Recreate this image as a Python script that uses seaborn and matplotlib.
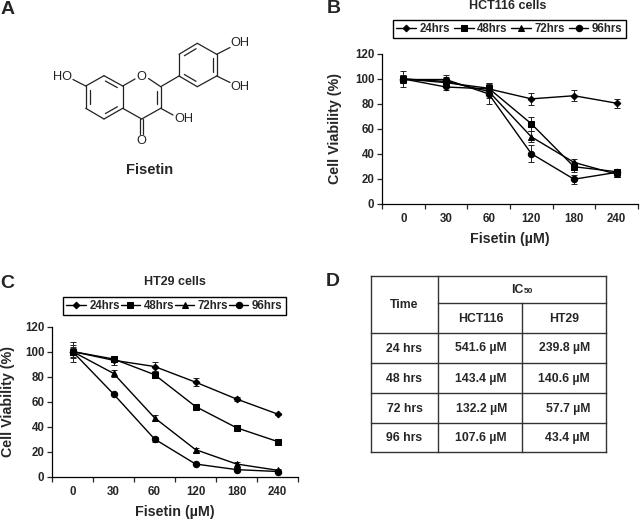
import numpy as np
import pandas as pd
import matplotlib
matplotlib.use("Agg")
import matplotlib.pyplot as plt
import seaborn as sns

doses = ['0', '30', '60', '120', '180', '240']
times = ['24hrs', '48hrs', '72hrs', '96hrs']

hct_24 = [100, 93.5, 92, 84, 86.5, 80.5]
hct_48 = [100, 97, 92.5, 64, 29.5, 25.5]
hct_72 = [100, 98, 90, 53.5, 33, 23.5]
hct_96 = [99.5, 99.5, 88, 40, 19.5, 25]
hct_24_err = [6.5, 2, 4.5, 5, 4.5, 3.5]
hct_48_err = [3, 3, 4, 5.5, 4, 2.5]
hct_72_err = [3, 3.5, 5, 4.5, 3, 2]
hct_96_err = [3, 3.5, 8, 7, 3.5, 2.5]

ht_24 = [100, 93, 88, 75.5, 62, 50]
ht_48 = [100, 94, 81.5, 56, 39, 28]
ht_72 = [100, 82.5, 47, 21.5, 10, 5]
ht_96 = [100, 66, 30, 10, 5.5, 4]
ht_24_err = [8, 3.5, 4, 3, 1.5, 1]
ht_48_err = [4, 2, 3, 1.5, 1.5, 1]
ht_72_err = [5, 3, 2.5, 1.5, 2, 1]
ht_96_err = [3, 1, 2, 1, 1, 1]

table_times = ['24 hrs', '48 hrs', '72 hrs', '96 hrs']
table_hct = ['541.6 µM', '143.4 µM', '132.2 µM', '107.6 µM']
table_ht = ['239.8 µM', '140.6 µM', '57.7 µM', '43.4 µM']

W, H = 640, 521
FONT = 'Liberation Sans'

sns.set_theme(style='ticks')
plt.rcParams['font.family'] = [FONT, 'DejaVu Sans']
plt.rcParams['font.weight'] = 'bold'

fig = plt.figure(figsize=(W / 100, H / 100), dpi=100)

# overlay in pixel coordinates for the diagram, the table and panel letters
bg = fig.add_axes([0, 0, 1, 1], zorder=0)
bg.set_xlim(0, W)
bg.set_ylim(H, 0)
bg.axis('off')


def axes_px(left, right, top, bottom):
    return fig.add_axes([left / W, 1 - bottom / H, (right - left) / W, (bottom - top) / H], zorder=2)


def viability(ax, series, errs, title, title_xy, legend_box, ylabel_pad):
    x = np.arange(len(doses))
    df = pd.DataFrame({'pos': np.tile(x, len(times)),
                       'val': np.concatenate(series),
                       'time': np.repeat(times, len(doses))})
    sns.lineplot(data=df, x='pos', y='val', hue='time', style='time', ax=ax,
                 palette=['black'] * 4, dashes=False,
                 markers={'24hrs': 'D', '48hrs': 's', '72hrs': '^', '96hrs': 'o'},
                 markersize=4.6, markeredgecolor='black', linewidth=1.0,
                 errorbar=None, sort=False, zorder=3)
    # the small diamond looks bigger otherwise
    ax.get_lines()[0].set_markersize(3.4)
    for v, e in zip(series, errs):
        ax.errorbar(x, v, yerr=e, fmt='none', ecolor='#222222', elinewidth=0.7,
                    capsize=2, capthick=0.7, zorder=2)
    ax.set_xlim(-0.5, 5.5)
    ax.set_ylim(0, 120)
    ax.set_yticks(range(0, 121, 20))
    ax.set_xticks(np.arange(-0.5, 6, 1))
    ax.set_xticklabels([])
    ax.set_xticks(x, minor=True)
    ax.set_xticklabels(doses, minor=True)
    ax.tick_params(axis='x', which='major', length=3.5, width=0.9, direction='out')
    ax.tick_params(axis='x', which='minor', length=0, pad=7, labelsize=8.3)
    ax.tick_params(axis='y', length=3.5, width=0.9, pad=2, labelsize=8.3)
    ax.set_xlabel('Fisetin (µM)', fontsize=10.3, fontweight='bold', labelpad=5)
    ax.set_ylabel('Cell Viability (%)', fontsize=10.3, fontweight='bold', labelpad=ylabel_pad)
    for s in ['top', 'right']:
        ax.spines[s].set_visible(False)
    for s in ['left', 'bottom']:
        ax.spines[s].set_linewidth(0.9)
        ax.spines[s].set_color('black')
    handles, labels = ax.get_legend_handles_labels()
    x0, y0, x1, y1 = legend_box
    leg = ax.legend(handles, labels, ncols=4, mode='expand', loc='center',
                    bbox_to_anchor=(x0 / W, 1 - y1 / H, (x1 - x0) / W, (y1 - y0) / H),
                    bbox_transform=fig.transFigure, borderaxespad=0, fancybox=False,
                    framealpha=1, edgecolor='black', fontsize=8.3, handlelength=1.7,
                    handletextpad=0.3, columnspacing=0.4, borderpad=0.3)
    leg.get_frame().set_linewidth(1.0)
    leg.legend_handles[0].set_markersize(3.4)
    for h in leg.legend_handles[1:]:
        h.set_markersize(4.6)
    bg.text(title_xy[0], title_xy[1], title, ha='center', va='center', fontsize=9, fontweight='bold')


ax_b = axes_px(382, 638, 54, 203.5)
viability(ax_b, [hct_24, hct_48, hct_72, hct_96],
          [hct_24_err, hct_48_err, hct_72_err, hct_96_err],
          'HCT116 cells', (508, 6), (393, 20, 626, 38), 9.4)

ax_c = axes_px(52, 298, 326.5, 476.5)
viability(ax_c, [ht_24, ht_48, ht_72, ht_96],
          [ht_24_err, ht_48_err, ht_72_err, ht_96_err],
          'HT29 cells', (175, 282), (63, 297, 286, 315), 7.2)

# panel letters
for letter, px, py in [('A', 8, 9), ('B', 334, 8.5), ('C', 7, 284), ('D', 333, 281)]:
    bg.text(px, py, letter, ha='center', va='center', fontsize=14, fontweight='bold')

# panel A, fisetin structure (atom positions in pixels)
atoms = {'c7': (85.7, 86), 'c8': (104, 75.7), 'c8a': (122.7, 86), 'c4a': (122.7, 108.3),
         'c5': (104, 119), 'c6': (85.7, 108.3), 'c2': (160.7, 86.7), 'c3': (160.7, 108.3),
         'c4': (141.7, 119), 'b1': (179, 76), 'b2': (179, 54.3), 'b3': (197.3, 43.3),
         'b4': (216.7, 54.3), 'b5': (216.7, 76), 'b6': (197.3, 86.7)}
single = [('c7', 'c8'), ('c8a', 'c4a'), ('c5', 'c6'), ('c3', 'c4'), ('c4', 'c4a'),
          ('c2', 'b1'), ('b1', 'b2'), ('b3', 'b4'), ('b5', 'b6')]
double_a = [('c7', 'c6'), ('c8', 'c8a'), ('c4a', 'c5')]
double_b = [('b2', 'b3'), ('b4', 'b5'), ('b6', 'b1')]
double_c = [('c2', 'c3')]
stubs = [((85.7, 86), (73, 79.5)), ((122.7, 86), (135, 79)), ((148.5, 78.5), (160.7, 86.7)),
         ((160.7, 108.3), (173, 115)), ((216.7, 54.3), (230, 47.5)), ((216.7, 76), (230, 82.5))]


def bond(a, b):
    bg.plot([a[0], b[0]], [a[1], b[1]], color='#222222', lw=0.9, solid_capstyle='round')


def inner(a, b, center):
    a, b, center = np.array(a), np.array(b), np.array(center)
    p = a + 0.18 * (b - a)
    q = a + 0.82 * (b - a)
    mid = (a + b) / 2
    off = (center - mid) / np.linalg.norm(center - mid) * 4
    bond(p + off, q + off)


for a, b in single:
    bond(atoms[a], atoms[b])
for group, center in [(double_a, (104, 97)), (double_b, (197.8, 65)), (double_c, (141.7, 97.5))]:
    for a, b in group:
        bond(atoms[a], atoms[b])
        inner(atoms[a], atoms[b], center)
for a, b in stubs:
    bond(a, b)
bond((140.2, 119), (140.2, 134))
bond((143.2, 119), (143.2, 134))
for label, px, py in [('HO', 62.5, 77), ('O', 141.7, 76.5), ('OH', 184, 119.5),
                      ('O', 141.7, 141.5), ('OH', 240, 43.5), ('OH', 240, 87)]:
    bg.text(px, py, label, ha='center', va='center', fontsize=9.2, fontweight='normal', color='#222222')
bg.text(150, 170, 'Fisetin', ha='center', va='center', fontsize=10.5, fontweight='bold')

# panel D, IC50 table
col_x = [370.7, 438.3, 522.3, 606]
row_y = [276, 303, 333, 363, 393.3, 423.3, 452]
tab_kw = dict(color='#333333', lw=1.0, solid_capstyle='projecting')
for yy in [row_y[0], row_y[2], row_y[3], row_y[4], row_y[5], row_y[6]]:
    bg.plot([col_x[0], col_x[3]], [yy, yy], **tab_kw)
bg.plot([col_x[1], col_x[3]], [row_y[1], row_y[1]], **tab_kw)
bg.plot([col_x[0], col_x[0]], [row_y[0], row_y[6]], **tab_kw)
bg.plot([col_x[1], col_x[1]], [row_y[0], row_y[6]], **tab_kw)
bg.plot([col_x[3], col_x[3]], [row_y[0], row_y[6]], **tab_kw)
bg.plot([col_x[2], col_x[2]], [row_y[1], row_y[6]], **tab_kw)

tab_fs = 8.8
bg.text(404.5, 305, 'Time', ha='center', va='center', fontsize=tab_fs, fontweight='bold')
bg.text(524, 290, 'IC', ha='right', va='center', fontsize=tab_fs, fontweight='bold')
bg.text(524, 291.5, '50', ha='left', va='center', fontsize=6, fontweight='bold')
bg.text(480.5, 318.5, 'HCT116', ha='center', va='center', fontsize=tab_fs, fontweight='bold')
bg.text(564, 318.5, 'HT29', ha='center', va='center', fontsize=tab_fs, fontweight='bold')
for i in range(len(table_times)):
    cy = (row_y[i + 2] + row_y[i + 3]) / 2 + 0.5
    bg.text(404.5, cy, table_times[i], ha='center', va='center', fontsize=tab_fs, fontweight='bold')
    bg.text(507, cy, table_hct[i], ha='right', va='center', fontsize=tab_fs, fontweight='bold')
    bg.text(590, cy, table_ht[i], ha='right', va='center', fontsize=tab_fs, fontweight='bold')

fig.savefig('out.png', dpi=100)
